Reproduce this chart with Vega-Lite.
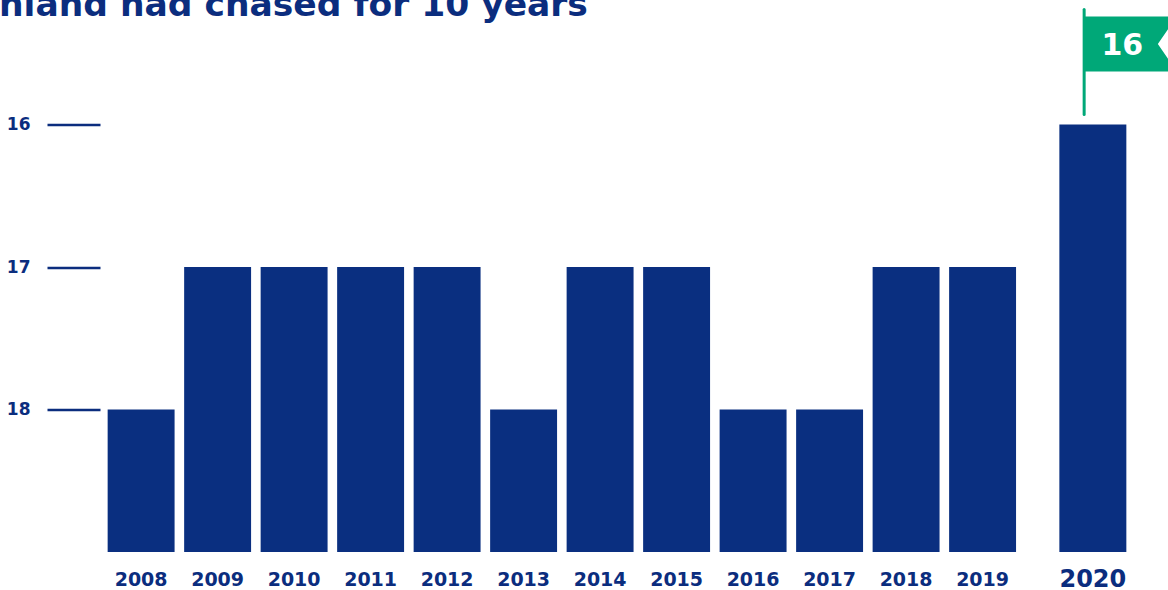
{
  "$schema": "https://vega.github.io/schema/vega-lite/v6.json",
  "autosize": {"type": "none"},
  "padding": {"left": 100, "top": 10.5, "right": 1068, "bottom": 579.5},
  "background": "white",
  "title": {
    "text": "nland had chased for 10 years",
    "anchor": "start",
    "frame": "group",
    "font": "DejaVu Sans",
    "fontWeight": "bold",
    "fontSize": 34.5,
    "color": "#0b2d7e",
    "baseline": "alphabetic",
    "offset": 0,
    "dx": -101,
    "dy": 42
  },
  "data": {
    "values": [
      {"year": 2008, "rank": 18},
      {"year": 2009, "rank": 17},
      {"year": 2010, "rank": 17},
      {"year": 2011, "rank": 17},
      {"year": 2012, "rank": 17},
      {"year": 2013, "rank": 18},
      {"year": 2014, "rank": 17},
      {"year": 2015, "rank": 17},
      {"year": 2016, "rank": 18},
      {"year": 2017, "rank": 18},
      {"year": 2018, "rank": 17},
      {"year": 2019, "rank": 17},
      {"year": 2020, "rank": 16}
    ]
  },
  "spacing": 27.7,
  "hconcat": [
    {
      "width": 923.7,
      "height": 541.5,
      "transform": [{"filter": "datum.year < 2020"}],
      "mark": {"type": "bar", "color": "#0a2f80"},
      "encoding": {
        "x": {
          "field": "year",
          "type": "ordinal",
          "scale": {"paddingInner": 0.125, "paddingOuter": 0.1},
          "axis": {
            "title": null,
            "labelAngle": 0,
            "domain": false,
            "ticks": false,
            "labelFontSize": 19,
            "labelPadding": 33,
            "labelBaseline": "alphabetic"
          }
        },
        "y": {
          "field": "rank",
          "type": "quantitative",
          "scale": {"domain": [15.2, 19], "reverse": true, "zero": false, "nice": false},
          "axis": {
            "title": null,
            "values": [16, 17, 18],
            "format": "d",
            "domain": false,
            "grid": false,
            "ticks": true,
            "tickSize": 53,
            "tickWidth": 2.5,
            "tickColor": "#0b2d7e",
            "labelPadding": 17,
            "labelFontSize": 17,
            "minExtent": 90,
            "maxExtent": 90
          }
        },
        "y2": {"datum": 19}
      }
    },
    {
      "width": 82.3,
      "height": 541.5,
      "transform": [{"filter": "datum.year == 2020"}],
      "encoding": {
        "x": {
          "field": "year",
          "type": "ordinal",
          "scale": {"paddingInner": 0.125, "paddingOuter": 0.1},
          "axis": {
            "title": null,
            "labelAngle": 0,
            "domain": false,
            "ticks": false,
            "labelFontSize": 24,
            "labelPadding": 34,
            "labelBaseline": "alphabetic"
          }
        },
        "y": {
          "field": "rank",
          "type": "quantitative",
          "scale": {"domain": [15.2, 19], "reverse": true, "zero": false, "nice": false},
          "axis": null
        }
      },
      "layer": [
        {
          "mark": {"type": "bar", "color": "#0a2f80"},
          "encoding": {"y2": {"datum": 19}}
        },
        {
          "mark": {"type": "rule", "color": "#00a878", "strokeWidth": 3, "strokeCap": "round", "xOffset": -8.7, "yOffset": -10, "y2Offset": -115},
          "encoding": {"y2": {"field": "rank"}}
        },
        {
          "mark": {"type": "point", "shape": "M-8,-27.5L84,-27.5L65,0L84,27.5L-8,27.5Z", "size": 4, "filled": true, "color": "#00a878", "opacity": 1, "strokeWidth": 0, "yOffset": -80.5},
          "encoding": {}
        },
        {
          "mark": {"type": "text", "color": "white", "font": "DejaVu Sans", "fontWeight": "bold", "fontSize": 30, "xOffset": 29.5, "yOffset": -70, "baseline": "alphabetic", "align": "center"},
          "encoding": {"text": {"field": "rank", "type": "quantitative"}}
        }
      ]
    }
  ],
  "config": {
    "view": {"stroke": null},
    "axis": {
      "labelFont": "DejaVu Sans",
      "labelFontWeight": "bold",
      "labelColor": "#0b2d7e"
    }
  }
}
